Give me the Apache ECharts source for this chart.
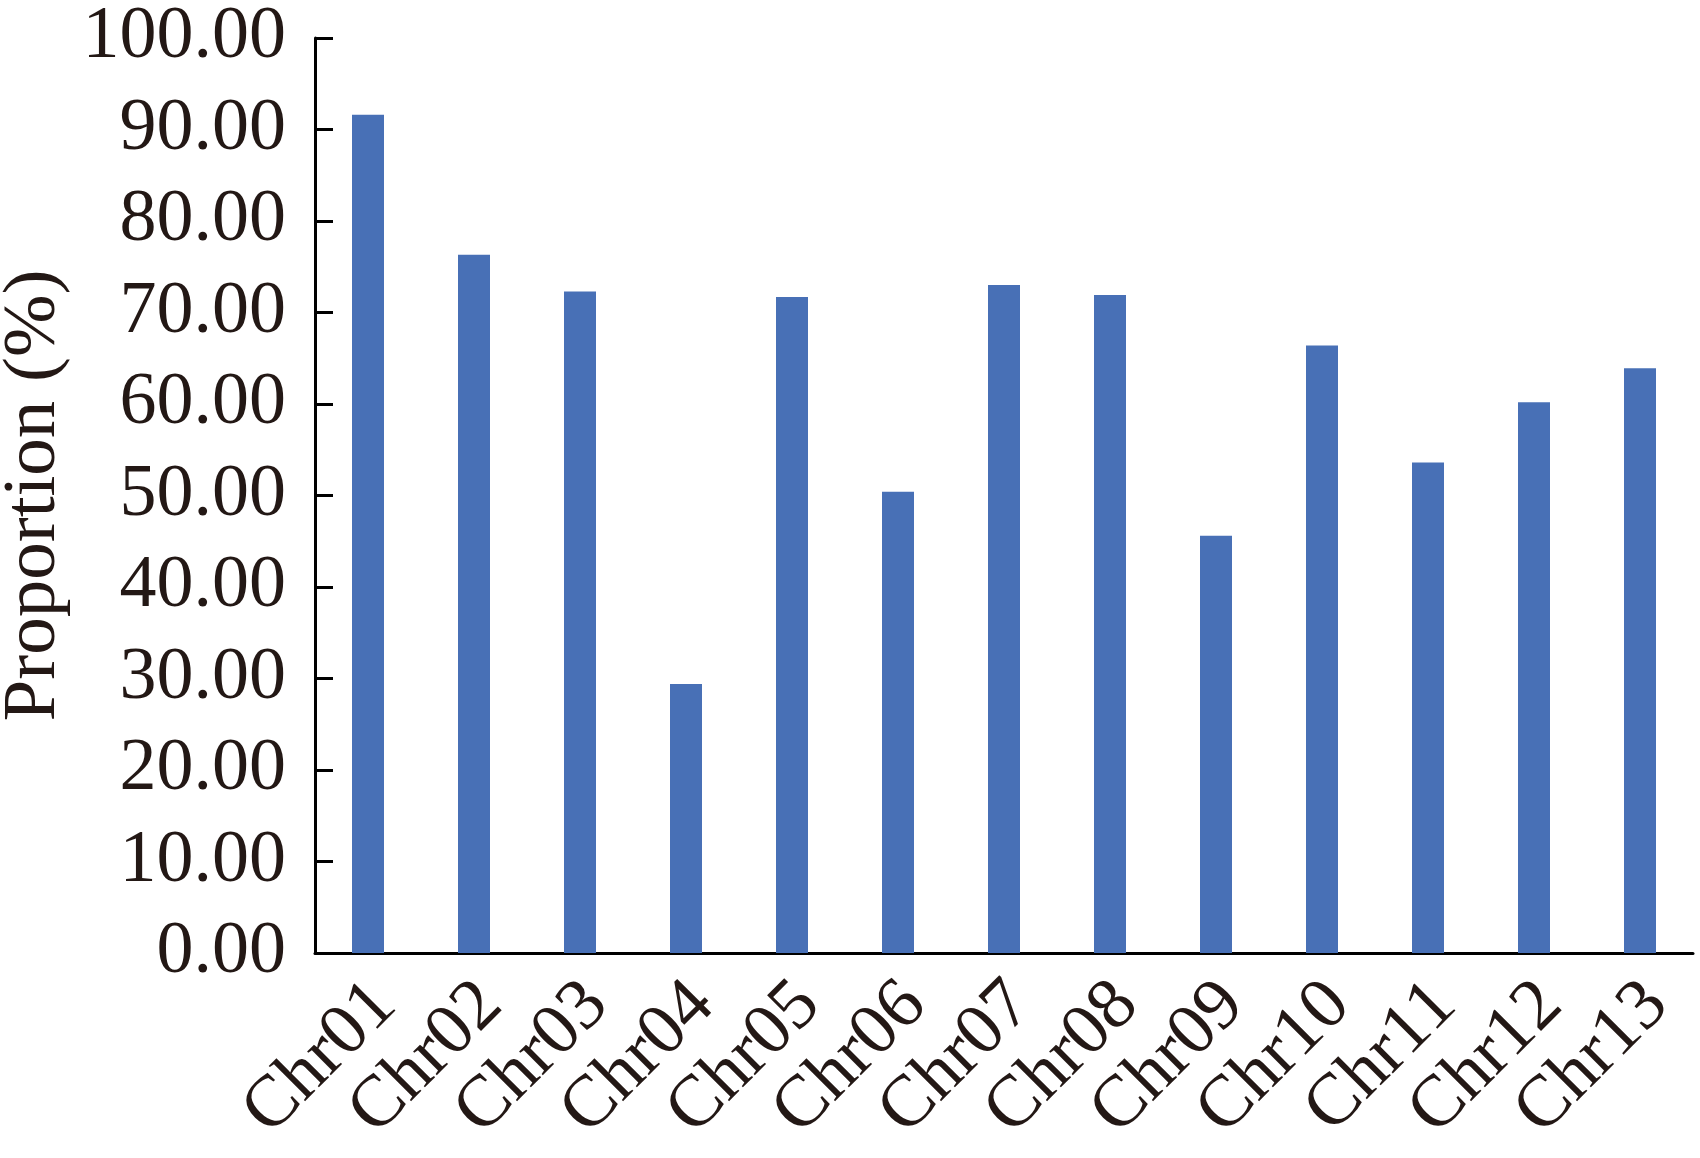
<!DOCTYPE html>
<html>
<head>
<meta charset="utf-8">
<title>Proportion by chromosome</title>
<script src="https://cdn.jsdelivr.net/npm/echarts@6/dist/echarts.min.js"></script>
<style>
  html, body { margin: 0; padding: 0; background: #ffffff; }
  #chart { width: 1700px; height: 1158px; }
</style>
</head>
<body>
<div id="chart"></div>
<script>
// 染色体名称
const chromosomes = ['Chr01', 'Chr02', 'Chr03', 'Chr04', 'Chr05', 'Chr06', 'Chr07',
  'Chr08', 'Chr09', 'Chr10', 'Chr11', 'Chr12', 'Chr13'];
// 各染色体占比 (%)
const proportions = [91.6, 76.3, 72.3, 29.4, 71.7, 50.4, 73.0, 71.9, 45.6, 66.4, 53.6, 60.2, 63.9];
// y 轴刻度
const yMin = 0, yMax = 100, yStep = 10;

const textColor = '#231815';
const fontFamily = '"Liberation Serif", "Times New Roman", serif';

const chart = echarts.init(document.getElementById('chart'));
chart.setOption({
  animation: false,
  grid: {
    left: 315, right: 7, top: 38, bottom: 205,
    containLabel: false,
    outerBoundsMode: 'none'
  },
  xAxis: {
    type: 'category',
    data: chromosomes,
    axisLine: { lineStyle: { color: '#000', width: 3 } },
    axisTick: { show: false },
    axisLabel: {
      rotate: 45,
      interval: 0,
      margin: 24,
      align: 'right',
      verticalAlign: 'top',
      lineHeight: 48,
      color: textColor,
      fontFamily: fontFamily,
      fontSize: 73
    }
  },
  yAxis: {
    type: 'value',
    min: yMin,
    max: yMax,
    interval: yStep,
    name: 'Proportion (%)',
    nameLocation: 'middle',
    nameGap: 211,
    nameRotate: 90,
    nameTextStyle: { color: textColor, fontFamily: fontFamily, fontSize: 75 },
    axisLine: { show: true, lineStyle: { color: '#000', width: 3 } },
    axisTick: { show: true, inside: true, length: 18, lineStyle: { color: '#000', width: 3 } },
    splitLine: { show: false },
    axisLabel: {
      margin: 29,
      color: textColor,
      fontFamily: fontFamily,
      fontSize: 74,
      formatter: v => v.toFixed(2)
    }
  },
  series: [{
    type: 'bar',
    data: proportions,
    barWidth: 32,
    itemStyle: { color: '#4870B6' }
  }]
});
</script>
</body>
</html>
